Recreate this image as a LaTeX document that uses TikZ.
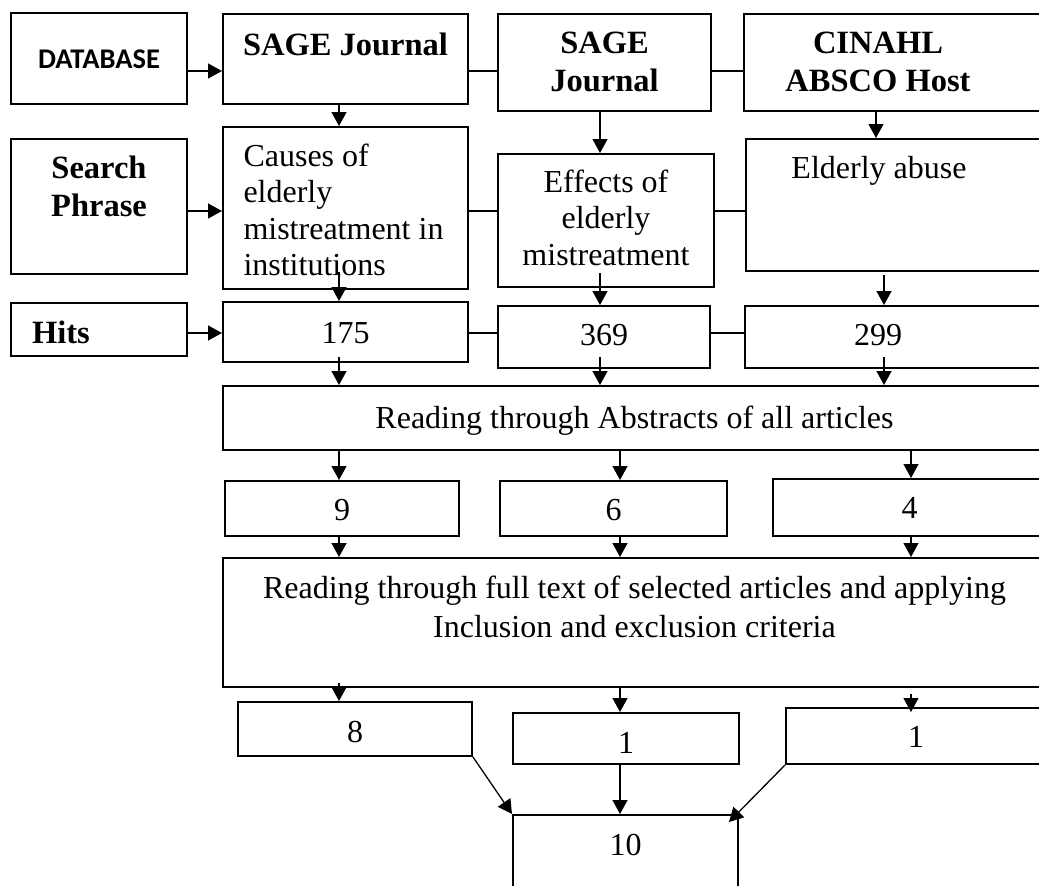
\documentclass[tikz,border=0pt]{standalone}
\usepackage{fontspec}
\setmainfont{Liberation Serif}
\newfontfamily\dbfont{Carlito}
\usetikzlibrary{arrows.meta,calc}

\begin{document}
\begin{tikzpicture}[x=1pt, y=-1pt,
    box/.style={draw, line width=2pt, inner sep=0pt, text height=0pt, text depth=0pt,
      font=\fontsize{32}{36.5}\selectfont},
    head/.style={font=\fontsize{32.5}{38}\selectfont\bfseries},
    link/.style={line width=1.3pt},
    arr/.style={link, -{Triangle[length=14pt, width=15pt]}}]
  \useasboundingbox (0,0) rectangle (1039,886);
  \clip (0,0) rectangle (1039,886);

  \coordinate (r1) at (0,71);
  \coordinate (r2) at (0,211);
  \coordinate (r3) at (0,333);
  \coordinate (c1) at (339,0);
  \coordinate (c2) at (600,0);
  \coordinate (c3) at (620,0);
  \coordinate (c4) at (876,0);
  \coordinate (c5) at (884,0);
  \coordinate (c6) at (911,0);

  % databases
  \node[box, minimum width=176pt, minimum height=91pt, text height=19pt,
    font=\dbfont\fontsize{28.5}{30}\selectfont\bfseries] (db) at (99,58.5) {DATABASE};
  \node[box, head, minimum width=245pt, minimum height=90pt, text depth=8pt] (sage1) at (345.5,59) {SAGE Journal};
  \node[box, head, minimum width=213pt, minimum height=97pt, text depth=19pt,
    text width=200pt, align=flush center] (sage2) at (604.5,62.5) {SAGE\\Journal};
  \node[box, head, minimum width=302pt, minimum height=97pt, text depth=19pt,
    text width=280pt, align=flush center] (cinahl) at (895,62.5) {CINAHL\rule{34pt}{0pt}\\ABSCO Host\rule{34pt}{0pt}};

  % search phrases
  \node[box, head, minimum width=176pt, minimum height=135pt, text depth=57pt,
    text width=160pt, align=flush center] (search) at (99,206.5) {Search\\Phrase};
  \node[box, minimum width=245pt, minimum height=162pt, text depth=84pt,
    text width=204pt, align=flush left] (causes) at (345.5,208) {Causes of\\elderly\\mistreatment in\\institutions};
  \node[box, minimum width=216pt, minimum height=133pt, text depth=57pt,
    text width=200pt, align=flush center] (effects) at (606,220.5) {Effects of\\elderly\\mistreatment};
  \node[box, minimum width=300pt, minimum height=132pt, text depth=54pt] (abuse) at (896,205) {Elderly abuse\rule{34pt}{0pt}};

  % hits
  \node[box, head, minimum width=176pt, minimum height=53pt, text height=27pt,
    text width=134pt, align=flush left] (hits) at (99,329.5) {Hits};
  \node[box, minimum width=245pt, minimum height=60pt, text height=22pt] (n175) at (345.5,332) {175};
  \node[box, minimum width=212pt, minimum height=62pt, text height=16pt] (n369) at (604,337) {369};
  \node[box, minimum width=301pt, minimum height=62pt, text height=16pt] (n299) at (895.5,337) {299\rule{35pt}{0pt}};

  % screening
  \node[box, minimum width=823pt, minimum height=64pt, text height=20pt] (abstracts) at (634.5,418) {Reading through Abstracts of all articles};
  \node[box, minimum width=234pt, minimum height=55pt, text height=23pt] (n9) at (342,508.5) {9};
  \node[box, minimum width=227pt, minimum height=55pt, text height=23pt] (n6) at (613.5,508.5) {6};
  \node[box, minimum width=273pt, minimum height=57pt, text height=21pt] (n4) at (909.5,507.5) {4};
  \node[box, minimum width=823pt, minimum height=129pt, text depth=49pt, text width=800pt, align=flush center,
    font=\fontsize{32}{39}\selectfont] (fulltext) at (634.5,622.5)
    {Reading through full text of selected articles and applying\\Inclusion and exclusion criteria};
  \node[box, minimum width=234pt, minimum height=54pt, text height=26pt] (n8) at (355,729) {8};
  \node[box, minimum width=226pt, minimum height=51pt, text height=29pt] (n1a) at (626,738.5) {1};
  \node[box, minimum width=260pt, minimum height=56pt, text height=22pt] (n1b) at (916,736) {1};
  \node[box, minimum width=225pt, minimum height=85pt, text depth=5pt] (n10) at (625.5,857.5) {10};

  \path[arr]
    (db.east |- r1) edge (sage1.west |- r1)
    (search.east |- r2) edge (causes.west |- r2)
    (hits.east |- r3) edge (n175.west |- r3);
  \path[link]
    (sage1.east |- r1) edge (sage2.west |- r1)
    (sage2.east |- r1) edge (cinahl.west |- r1)
    (causes.east |- r2) edge (effects.west |- r2)
    (effects.east |- r2) edge (abuse.west |- r2)
    (n175.east |- r3) edge (n369.west |- r3)
    (n369.east |- r3) edge (n299.west |- r3);

  \path[arr]
    (sage1.south -| c1) edge (causes.north -| c1)
    ($(causes.south -| c1)+(0,-18)$) edge (n175.north -| c1)
    ($(n175.south -| c1)+(0,-6)$) edge (abstracts.north -| c1)
    (abstracts.south -| c1) edge (n9.north -| c1)
    (n9.south -| c1) edge (fulltext.north -| c1)
    ($(fulltext.south -| c1)+(0,-5)$) edge (n8.north -| c1)
    (sage2.south -| c2) edge (effects.north -| c2)
    ($(effects.south -| c2)+(0,-15)$) edge (n369.north -| c2)
    ($(n369.south -| c2)+(0,-12)$) edge (abstracts.north -| c2)
    (abstracts.south -| c3) edge (n6.north -| c3)
    (n6.south -| c3) edge (fulltext.north -| c3)
    (fulltext.south -| c3) edge (n1a.north -| c3)
    (n1a.south -| c3) edge (n10.north -| c3)
    (cinahl.south -| c4) edge (abuse.north -| c4)
    ($(abuse.south -| c5)+(0,3)$) edge (n299.north -| c5)
    ($(n299.south -| c5)+(0,-12)$) edge (abstracts.north -| c5)
    (abstracts.south -| c6) edge (n4.north -| c6)
    (n4.south -| c6) edge (fulltext.north -| c6)
    ($(fulltext.south -| c6)+(0,6)$) edge ($(n1b.north -| c6)+(0,5)$)
    (n8.south east) edge (n10.north west)
    (n1b.south west) edge ($(n10.north east)+(-10,8)$);
\end{tikzpicture}
\end{document}
